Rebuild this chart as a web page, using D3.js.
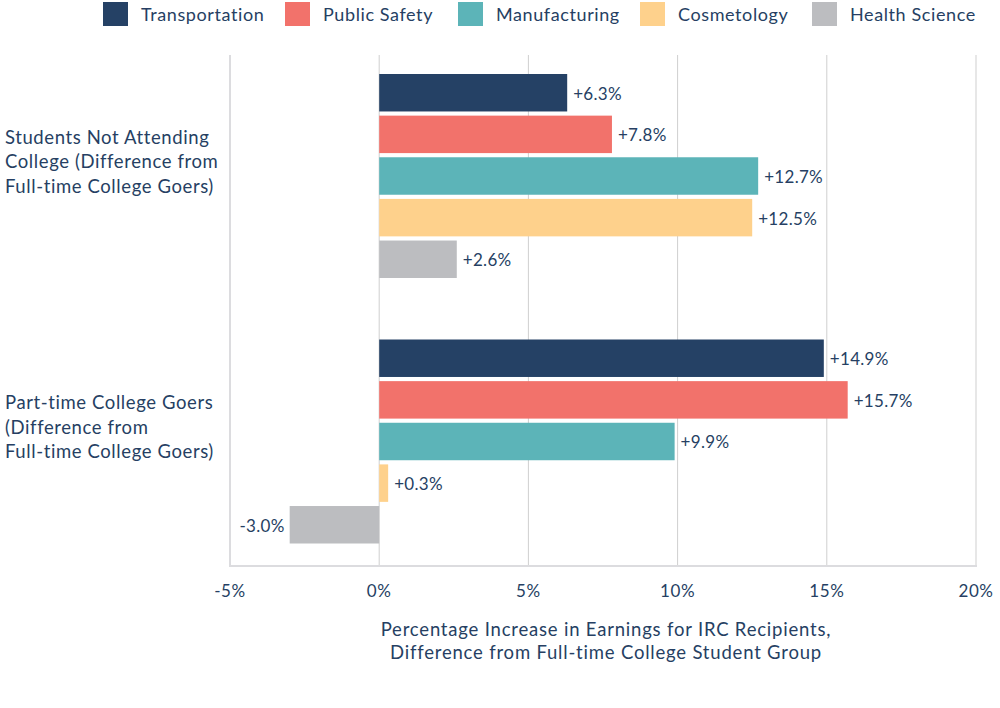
<!DOCTYPE html>
<html><head><meta charset="utf-8">
<script src="https://cdn.jsdelivr.net/npm/d3@7"></script>
<style>body{margin:0;background:#fff;} text{font-family:Lato,"Open Sans",sans-serif;fill:#263f63;}</style>
</head><body><svg id="c" width="1000" height="708"></svg>
<script>
const groups = ["Students Not Attending College (Difference from Full-time College Goers)", "Part-time College Goers (Difference from Full-time College Goers)"];
const groupLines = [["Students Not Attending","College (Difference from","Full-time College Goers)"],["Part-time College Goers","(Difference from","Full-time College Goers)"]];
const series = ["Transportation","Public Safety","Manufacturing","Cosmetology","Health Science"];
const colors = ["#254165","#f2726b","#5cb4b8","#fed18c","#bcbdc0"];
const notAttending = [6.3, 7.8, 12.7, 12.5, 2.6];
const partTime = [14.9, 15.7, 9.9, 0.3, -3.0];
const ticks = [-5, 0, 5, 10, 15, 20];
const xTitle = ["Percentage Increase in Earnings for IRC Recipients,","Difference from Full-time College Student Group"];

const values = [notAttending, partTime];
const svg = d3.select("#c");
const x = d3.scaleLinear().domain([-5,20]).range([230,976]);
const gY = d3.scalePoint().domain(groups).range([176,441.5]);
const sY = d3.scaleBand().domain(series).range([-102,102]).paddingInner(0.1).paddingOuter(0);
const plotTop = 55, plotBottom = 566;

// gridlines
svg.append("g").selectAll("line").data(ticks.slice(1)).join("line")
  .attr("x1",d=>x(d)).attr("x2",d=>x(d)).attr("y1",plotTop).attr("y2",plotBottom)
  .attr("stroke","#cfcfcf").attr("stroke-width",1);
// left axis + bottom
svg.append("line").attr("x1",x(-5)).attr("x2",x(-5)).attr("y1",plotTop).attr("y2",plotBottom+1).attr("stroke","#dcdcdf").attr("stroke-width",2);
svg.append("line").attr("x1",x(-5)-1).attr("x2",x(20)+1).attr("y1",plotBottom).attr("y2",plotBottom).attr("stroke","#dcdcdf").attr("stroke-width",2);

// bars
groups.forEach((g,gi)=>{
  const gg = svg.append("g").attr("transform",`translate(0,${gY(g)})`);
  series.forEach((s,si)=>{
    const v = values[gi][si];
    gg.append("rect").attr("x",x(Math.min(0,v))).attr("width",Math.abs(x(v)-x(0)))
      .attr("y",sY(s)).attr("height",sY.bandwidth()).attr("fill",colors[si]);
    gg.append("text").attr("x", v>=0 ? x(v)+6 : x(v)-5)
      .attr("y",sY(s)+sY.bandwidth()/2+1).attr("dy","0.35em")
      .attr("text-anchor", v>=0 ? "start":"end")
      .attr("font-size",17).attr("letter-spacing",0.3)
      .text((v>=0?"+":"")+v.toFixed(1)+"%");
  });
  // group labels
  const lines = groupLines[gi];
  svg.append("g").selectAll("text").data(lines).join("text")
    .attr("x",5).attr("y",(d,i)=>gY(g)+(i-1)*24.5 - 14).attr("dy","0.35em")
    .attr("font-size",18.5).attr("letter-spacing",0.6).text(d=>d);
});

// tick labels
svg.append("g").selectAll("text").data(ticks).join("text")
  .attr("x",d=>x(d)).attr("y",591).attr("dy","0.35em").attr("text-anchor","middle")
  .attr("font-size",17).attr("letter-spacing",0.6).text(d=>d+"%");

// axis title
svg.append("g").selectAll("text").data(xTitle).join("text")
  .attr("x",606).attr("y",(d,i)=>630+i*23).attr("dy","0.35em").attr("text-anchor","middle")
  .attr("font-size",18.5).attr("letter-spacing",0.8).text(d=>d);

// legend
const legX = [103,285,458,640,812];
const leg = svg.append("g").selectAll("g").data(series).join("g")
  .attr("transform",(d,i)=>`translate(${legX[i]},2)`);
leg.append("rect").attr("width",25).attr("height",24).attr("fill",(d,i)=>colors[i]);
leg.append("text").attr("x",38).attr("y",13).attr("dy","0.35em").attr("font-size",18).attr("letter-spacing",0.6).text(d=>d);
</script></body></html>
